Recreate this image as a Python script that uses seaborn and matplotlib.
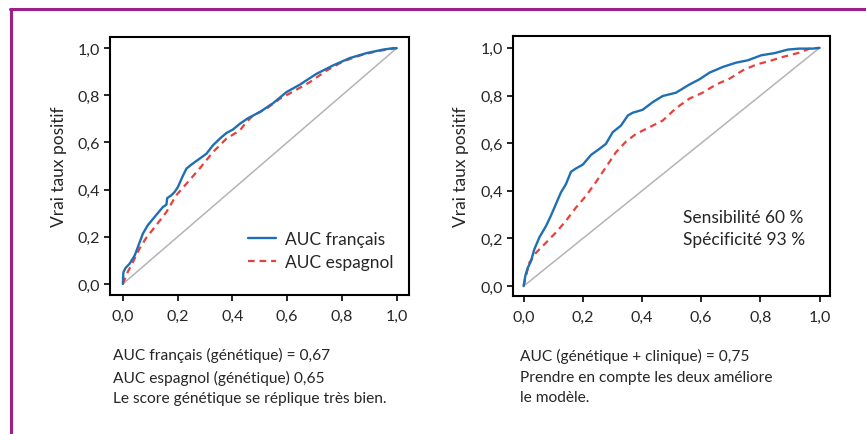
import matplotlib
matplotlib.use('Agg')
import matplotlib.pyplot as plt
import seaborn as sns
import pandas as pd
from matplotlib.lines import Line2D

# Courbes ROC
fr_x = [0, 0.002, 0.01, 0.024, 0.043, 0.055, 0.073, 0.091, 0.116, 0.146, 0.159, 0.162, 0.177,
        0.189, 0.201, 0.217, 0.232, 0.25, 0.28, 0.305, 0.329, 0.354, 0.378, 0.402, 0.427,
        0.457, 0.5, 0.549, 0.598, 0.646, 0.707, 0.768, 0.829, 0.89, 0.951, 0.988, 1.0]
fr_y = [0, 0.05, 0.068, 0.085, 0.12, 0.157, 0.213, 0.249, 0.284, 0.326, 0.336, 0.364, 0.376,
        0.39, 0.411, 0.453, 0.489, 0.506, 0.531, 0.552, 0.588, 0.616, 0.64, 0.655, 0.679,
        0.703, 0.729, 0.767, 0.814, 0.845, 0.891, 0.927, 0.958, 0.979, 0.994, 1.0, 1.0]

es_x = [0, 0.018, 0.037, 0.061, 0.085, 0.122, 0.159, 0.195, 0.232, 0.28, 0.329, 0.378, 0.427,
        0.451, 0.476, 0.524, 0.573, 0.622, 0.683, 0.744, 0.805, 0.866, 0.927, 1.0]
es_y = [0, 0.051, 0.093, 0.15, 0.195, 0.249, 0.305, 0.376, 0.425, 0.489, 0.559, 0.616, 0.651,
        0.686, 0.715, 0.743, 0.785, 0.816, 0.856, 0.905, 0.944, 0.969, 0.987, 1.0]

comb_x = [0, 0.006, 0.014, 0.025, 0.036, 0.053, 0.076, 0.092, 0.109, 0.126, 0.143, 0.16, 0.177,
          0.2, 0.228, 0.256, 0.278, 0.301, 0.329, 0.352, 0.369, 0.402, 0.436, 0.47, 0.515,
          0.56, 0.594, 0.628, 0.673, 0.718, 0.758, 0.803, 0.848, 0.893, 0.932, 0.977, 1.0]
comb_y = [0, 0.045, 0.077, 0.105, 0.154, 0.204, 0.253, 0.295, 0.344, 0.393, 0.428, 0.48, 0.494,
          0.51, 0.551, 0.576, 0.597, 0.646, 0.674, 0.716, 0.728, 0.74, 0.772, 0.798, 0.812,
          0.846, 0.868, 0.896, 0.92, 0.938, 0.948, 0.969, 0.978, 0.993, 0.997, 0.997, 1.0]

gen_x = [0, 0.008, 0.019, 0.042, 0.076, 0.109, 0.143, 0.177, 0.211, 0.245, 0.278, 0.312, 0.346,
         0.38, 0.425, 0.47, 0.515, 0.56, 0.605, 0.65, 0.696, 0.741, 0.786, 0.831, 0.876,
         0.932, 0.966, 1.0]
gen_y = [0, 0.042, 0.098, 0.14, 0.183, 0.225, 0.274, 0.33, 0.379, 0.438, 0.499, 0.562, 0.607,
         0.639, 0.667, 0.695, 0.747, 0.787, 0.812, 0.846, 0.871, 0.906, 0.93, 0.945, 0.962,
         0.98, 0.997, 1.0]

ticks = [0, 0.2, 0.4, 0.6, 0.8, 1.0]
tick_labels = ['0,0', '0,2', '0,4', '0,6', '0,8', '1,0']

BLUE = '#1f6fb4'
RED = '#e8403a'
PURPLE = '#9c1f8c'

sns.set_style('white')
plt.rcParams['font.family'] = ['Lato', 'DejaVu Sans']

fig = plt.figure(figsize=(8.66, 4.35), dpi=100)
ax1 = fig.add_axes([0.127, 0.3195, 0.345, 0.593])
ax2 = fig.add_axes([0.592, 0.317, 0.366, 0.598])


def roc_panel(ax, bx, by, rx, ry, xlim, ylim, labels):
    ax.plot([0, 1], [0, 1], color='#b4b4b4', lw=1.1, zorder=1)
    d1 = pd.DataFrame({'x': bx, 'y': by})
    d2 = pd.DataFrame({'x': rx, 'y': ry})
    sns.lineplot(data=d1, x='x', y='y', sort=False, color=BLUE, lw=1.7, ax=ax,
                 label=labels[0], zorder=3)
    sns.lineplot(data=d2, x='x', y='y', sort=False, color=RED, lw=1.6, ax=ax,
                 linestyle=(0, (3, 2.2)), label=labels[1], zorder=2)
    ax.set_xlim(*xlim)
    ax.set_ylim(*ylim)
    ax.set_xticks(ticks)
    ax.set_xticklabels(tick_labels)
    ax.set_yticks(ticks)
    ax.set_yticklabels(tick_labels)
    ax.tick_params(direction='out', length=4, width=1.2, color='black',
                   labelsize=11.5, pad=3, bottom=True, left=True)
    ax.tick_params(axis='x', pad=6)
    for s in ax.spines.values():
        s.set_color('black')
        s.set_linewidth(1.5)
    ax.set_xlabel('')
    ax.set_ylabel('Vrai taux positif', fontsize=12.5, labelpad=8)


roc_panel(ax1, fr_x, fr_y, es_x, es_y, (-0.047, 1.044), (-0.047, 1.047),
          ['AUC français', 'AUC espagnol'])
roc_panel(ax2, comb_x, comb_y, gen_x, gen_y, (-0.037, 1.034), (-0.042, 1.05),
          ['_a', '_b'])

ax1.legend(loc='lower left', bbox_to_anchor=(0.41, 0.035), frameon=False,
           fontsize=12.5, handlelength=1.6, handletextpad=0.5, labelspacing=0.42)
leg2 = ax2.get_legend()
if leg2 is not None:
    leg2.remove()

ax2.text(0.537, 0.244, 'Sensibilité 60 %\nSpécificité 93 %', fontsize=12.5,
         va='center', ha='left', linespacing=1.4)

fig.text(0.130, 0.133, 'AUC français (génétique) = 0,67\nAUC espagnol (génétique) 0,65\n'
         'Le score génétique se réplique très bien.', fontsize=11.2, va='center',
         ha='left', linespacing=1.6)
fig.text(0.600, 0.133, 'AUC (génétique + clinique) = 0,75\nPrendre en compte les deux améliore\n'
         'le modèle.', fontsize=11.2, va='center', ha='left', linespacing=1.6)

# cadre violet
fig.add_artist(Line2D([10 / 866, 1], [1 - 9.5 / 435, 1 - 9.5 / 435], color=PURPLE, lw=2.2))
fig.add_artist(Line2D([11 / 866, 11 / 866], [0, 1 - 9.5 / 435], color=PURPLE, lw=2.2))

fig.savefig('out.png', dpi=100)
